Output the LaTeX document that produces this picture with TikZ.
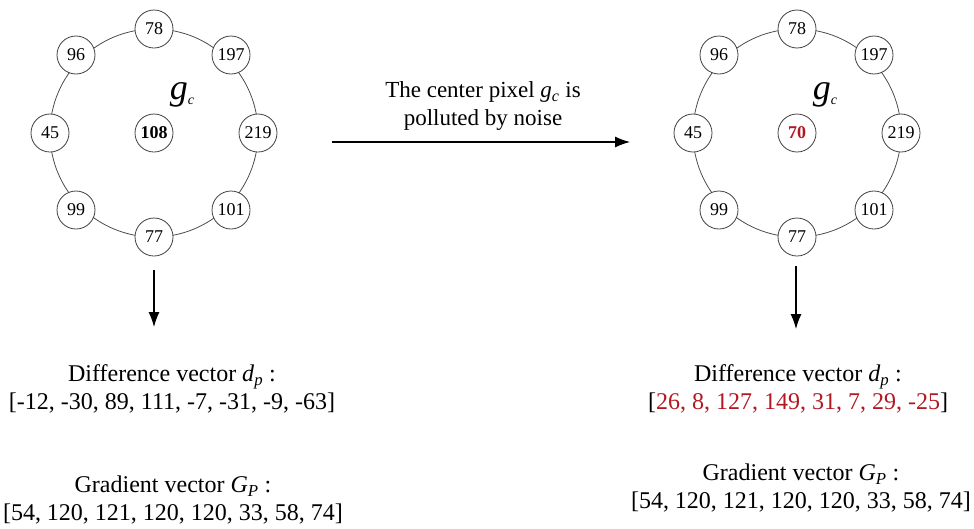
\documentclass[tikz,border=0pt]{standalone}
\usepackage{fontspec}
\setmainfont{Liberation Serif}
\usetikzlibrary{arrows.meta}
\definecolor{noisered}{RGB}{178,24,34}
\newcommand{\subv}[2]{\textit{#1}\textsubscript{\textit{#2}}}
\begin{document}
\begin{tikzpicture}[x=1pt,y=-1pt,font=\fontsize{18}{22}\selectfont]
% Pixel neighbourhood before and after the center pixel is hit by noise.
% Coordinates are given in pixels of the 974 x 528 canvas (y points down).
\useasboundingbox (0,0) rectangle (974,528);

\tikzset{
  pix/.style={circle,draw=black!75,line width=0.8pt,fill=white,minimum size=38pt,inner sep=0pt},
  ring/.style={draw=black!70,line width=0.8pt},
  gclab/.style={font=\fontsize{36}{36}\selectfont\itshape},
  txt/.style={font=\fontsize{23}{28}\selectfont,align=center},
  vec/.style={font=\fontsize{24}{28}\selectfont,align=center},
  flow/.style={-{Latex[length=15pt,width=11pt]},line width=1.1pt}
}

% Rings behind the neighbour pixels.
\draw[ring] (154,133) circle (104pt);
\draw[ring] (797,133) circle (104pt);

% Neighbour pixels, same values on both sides.
\foreach \nm/\dx/\dy/\val in {a/0/-104/78, b/77/-78/197, c/104/0/219, d/77/77/101,
                             e/0/104/77, f/-78/77/99, g/-104/0/45, h/-78/-78/96}{
  \node[pix] (l\nm) at (154+\dx,133+\dy) {\val};
  \node[pix] (r\nm) at (797+\dx,133+\dy) {\val};
}

% Center pixels.
\node[pix,font=\fontsize{18}{22}\selectfont\bfseries] (lc) at (154,133) {108};
\node[pix,font=\fontsize{18}{22}\selectfont\bfseries,text=noisered] (rc) at (797,133) {70};
\node[gclab] (lgc) at (182,95) {g\raisebox{-5pt}{\fontsize{14}{14}\selectfont c}};
\node[gclab] (rgc) at (825,95) {g\raisebox{-5pt}{\fontsize{14}{14}\selectfont c}};

% Noise arrow.
\node[txt] (noisetxt) at (483,106) {The center pixel \subv{g}{c} is\\polluted by noise};
\coordinate (nstart) at (332,142);
\coordinate (nend) at (630,142);
\draw[flow] (nstart) -- (nend);

% Downward arrows.
\coordinate (ldtop) at (154,270);
\coordinate (ldbot) at (154,327);
\draw[flow] (ldtop) -- (ldbot);
\coordinate (rdtop) at (796,266);
\coordinate (rdbot) at (796,329);
\draw[flow] (rdtop) -- (rdbot);

% Vectors, left side.
\node[vec] (ldiff) at (172,389) {Difference vector \subv{d}{p} :\\{}[-12, -30, 89, 111, -7, -31, -9, -63]};
\node[vec] (lgrad) at (173,500) {Gradient vector \subv{G}{P} :\\{}[54, 120, 121, 120, 120, 33, 58, 74]};

% Vectors, right side.
\node[vec] (rdiff) at (798,389) {Difference vector \subv{d}{p} :\\{}[\textcolor{noisered}{26, 8, 127, 149, 31, 7, 29, -25}]};
\node[vec] (rgrad) at (801,488) {Gradient vector \subv{G}{P} :\\{}[54, 120, 121, 120, 120, 33, 58, 74]};
\end{tikzpicture}
\end{document}
